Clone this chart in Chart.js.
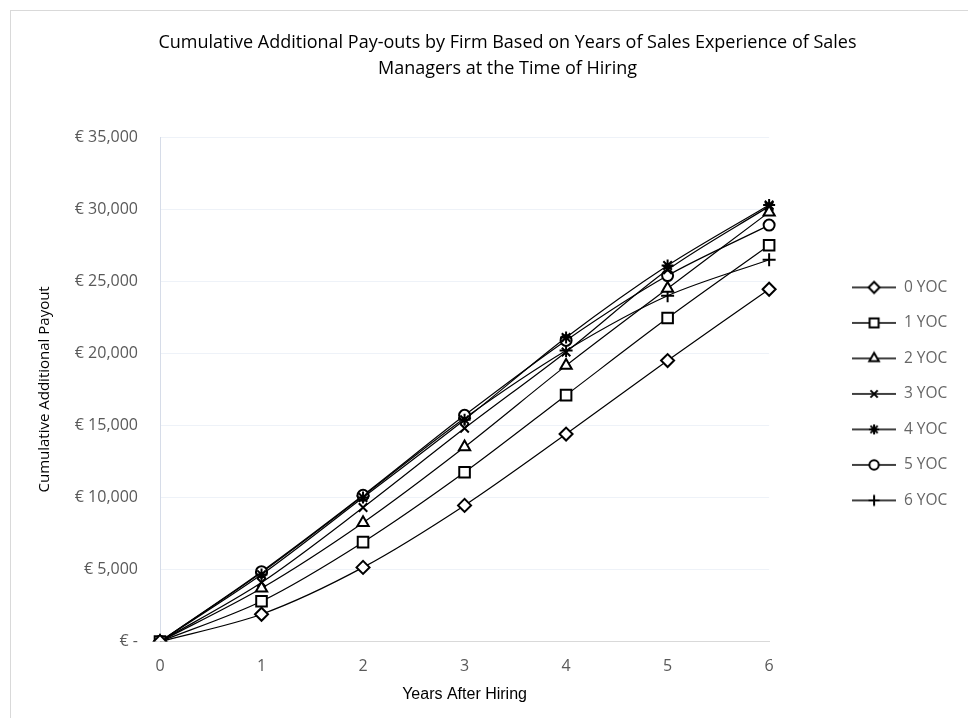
<!DOCTYPE html>
<html>
<head>
<meta charset="utf-8">
<script src="https://cdn.jsdelivr.net/npm/chart.js@4.4.1/dist/chart.umd.min.js"></script>
<style>
  body { margin: 0; background: #fff; overflow: hidden; }
  #wrap { position: absolute; left: 10px; top: 10px; border-left: 1px solid #d9d9d9; border-top: 1px solid #d9d9d9; }
  canvas { display: block; }
</style>
</head>
<body>
<div id="wrap"><canvas id="payoutChart" width="972" height="707"></canvas></div>
<script>
// Years after hiring (x axis)
const years = ['0', '1', '2', '3', '4', '5', '6'];

// Cumulative additional payout per years-of-sales-experience group
const yoc0 = [0, 1900, 5150, 9450, 14400, 19500, 24450];
const yoc1 = [0, 2800, 6900, 11750, 17100, 22450, 27500];
const yoc2 = [0, 3700, 8250, 13500, 19150, 24500, 29800];
const yoc3 = [0, 4100, 9300, 14800, 20100, 25800, 30200];
const yoc4 = [0, 4650, 10000, 15400, 21100, 26100, 30300];
const yoc5 = [0, 4850, 10150, 15700, 20900, 25400, 28900];
const yoc6 = [0, 4800, 10100, 15500, 20200, 24000, 26500];

const seriesNames = ['0 YOC', '1 YOC', '2 YOC', '3 YOC', '4 YOC', '5 YOC', '6 YOC'];
const seriesData = [yoc0, yoc1, yoc2, yoc3, yoc4, yoc5, yoc6];
const markers = ['rectRot', 'rect', 'triangle', 'crossRot', 'star', 'circle', 'cross'];
const markerSize = [6.5, 7.5, 6.5, 6, 6, 5.5, 6.5];

// legend icon: short line with the marker on top
function legendIcon(style, r) {
  const c = document.createElement('canvas');
  c.width = 44; c.height = 16;
  const g = c.getContext('2d');
  g.strokeStyle = '#000';
  g.lineWidth = 1.3;
  g.beginPath();
  g.moveTo(0, 8); g.lineTo(44, 8);
  g.stroke();
  g.fillStyle = '#fff';
  g.lineWidth = 2;
  Chart.helpers.drawPoint(g, { pointStyle: style, radius: r * 0.85, borderWidth: 2, rotation: 0 }, 22, 8);
  return c;
}

const datasets = seriesData.map((vals, i) => ({
  label: seriesNames[i],
  data: vals,
  yAxisID: 'y',
  borderColor: '#000',
  borderWidth: 1.2,
  backgroundColor: '#fff',
  pointStyle: markers[i],
  pointRadius: markerSize[i],
  pointBorderWidth: 2,
  pointBorderColor: '#000',
  pointBackgroundColor: '#fff',
  tension: 0.3,
  fill: false
}));

const euro = v => v === 0 ? '€ -' : '€ ' + v.toLocaleString('en-US');

// invisible right-hand axes used only as spacers
const spacer = (w, weight) => ({
  position: 'right',
  weight: weight,
  min: 0,
  max: 1,
  ticks: { display: false },
  grid: { display: false },
  border: { display: false },
  afterFit: s => { s.width = w; }
});

new Chart(document.getElementById('payoutChart'), {
  type: 'line',
  data: { labels: years, datasets: datasets },
  options: {
    responsive: false,
    animation: false,
    layout: { padding: { top: 10, right: 0, bottom: 10, left: 21 } },
    plugins: {
      title: {
        display: true,
        text: ['Cumulative Additional Pay-outs by Firm Based on Years of Sales Experience of Sales',
               'Managers at the Time of Hiring'],
        color: '#000',
        font: { family: 'Open Sans', size: 18, weight: 'normal', lineHeight: 1.45 },
        padding: { top: 9, bottom: 55 }
      },
      legend: {
        position: 'right',
        align: 'center',
        fullSize: false,
        title: { display: true, text: ' ', font: { size: 5 }, padding: { top: 3, bottom: 0 } },
        labels: {
          usePointStyle: true,
          pointStyleWidth: 44,
          boxHeight: 14,
          padding: 20,
          color: '#000',
          font: { family: 'Open Sans', size: 15.5 },
          generateLabels: chart => chart.data.datasets.map((ds, i) => ({
            text: ds.label,
            pointStyle: legendIcon(markers[i], markerSize[i]),
            fillStyle: '#fff',
            strokeStyle: '#000',
            lineWidth: 0,
            datasetIndex: i,
            hidden: false
          }))
        }
      },
      tooltip: { enabled: false }
    },
    scales: {
      x: {
        offset: false,
        grid: { display: false },
        border: { color: '#d9d9d9' },
        ticks: { color: '#595959', font: { family: 'Open Sans', size: 16 }, padding: 7 },
        title: { display: true, text: 'Years After Hiring', color: '#000', font: { family: 'Liberation Sans', size: 16 }, padding: { top: 2 } }
      },
      y: {
        min: 0,
        max: 35000,
        ticks: { stepSize: 5000, color: '#595959', font: { family: 'Open Sans', size: 16 }, padding: 22, callback: euro },
        grid: { color: '#eef2f8', drawTicks: false },
        border: { color: '#d6dce8' },
        title: { display: true, text: 'Cumulative Additional Payout', color: '#000', font: { family: 'Open Sans', size: 15 }, padding: { bottom: 22 } },
        afterFit: s => { s.width = 128; }
      },
      gap: spacer(63, 0),
      edge: spacer(32, 2000)
    }
  }
});
</script>
</body>
</html>
